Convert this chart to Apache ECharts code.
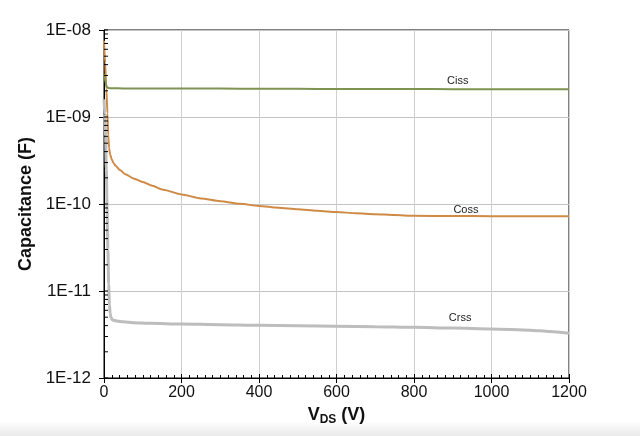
<!DOCTYPE html>
<html>
<head>
<meta charset="utf-8">
<script src="https://cdn.jsdelivr.net/npm/echarts@6/dist/echarts.min.js"></script>
<style>
html,body{margin:0;padding:0;background:#fff;}
#chart{width:640px;height:436px;}
</style>
</head>
<body>
<div id="chart"></div>
<script>
// ---- data ----
const seriesNames = ['Ciss', 'Coss', 'Crss'];
const xTicks = [0, 200, 400, 600, 800, 1000, 1200];
const yTickLabels = ['1E-12', '1E-11', '1E-10', '1E-09', '1E-08'];

const cissV = [0, 2, 4, 6, 8, 12, 20, 50, 100, 200, 300, 400, 500, 600, 700, 800, 900, 1000, 1100, 1200];
const ciss  = [3.1e-9, 2.8e-9, 2.5e-9, 2.3e-9, 2.2e-9, 2.15e-9, 2.14e-9, 2.13e-9, 2.13e-9, 2.12e-9, 2.12e-9, 2.11e-9, 2.11e-9, 2.1e-9, 2.1e-9, 2.1e-9, 2.09e-9, 2.09e-9, 2.08e-9, 2.08e-9];

const cossV = [0, 3, 6, 9, 11, 13, 16, 20, 25, 30, 41, 55, 76, 100, 125, 150, 200, 250, 300, 350, 400, 450, 500, 550, 600, 650, 700, 750, 800, 900, 1000, 1100, 1200];
const coss  = [7.5e-9, 4.2e-9, 2.1e-9, 1.1e-9, 6.2e-10, 4.4e-10, 3.7e-10, 3.25e-10, 2.95e-10, 2.75e-10, 2.46e-10, 2.2e-10, 1.97e-10, 1.79e-10, 1.62e-10, 1.47e-10, 1.29e-10, 1.16e-10, 1.075e-10, 1.005e-10, 9.5e-11, 9.05e-11, 8.68e-11, 8.36e-11, 8.08e-11, 7.84e-11, 7.64e-11, 7.46e-11, 7.33e-11, 7.27e-11, 7.25e-11, 7.22e-11, 7.25e-11];

const crssV = [0, 2, 4, 6, 8, 10, 12, 14, 16, 18, 22, 33, 50, 75, 120, 200, 300, 400, 500, 600, 700, 800, 900, 1000, 1100, 1150, 1200];
const crss  = [1.6e-9, 1.1e-9, 6e-10, 2.5e-10, 9e-11, 3e-11, 1.2e-11, 7e-12, 5.5e-12, 4.95e-12, 4.65e-12, 4.52e-12, 4.42e-12, 4.32e-12, 4.25e-12, 4.18e-12, 4.1e-12, 4.03e-12, 3.98e-12, 3.93e-12, 3.88e-12, 3.82e-12, 3.75e-12, 3.66e-12, 3.55e-12, 3.42e-12, 3.27e-12];

const decadeExps = [-12, -11, -10, -9];
const minorMults = [1, 2, 3, 4, 5, 6, 7, 8, 9];

// ---- build ----
const zip = (xs, ys) => xs.map((x, i) => [x, ys[i]]);
const yTickValues = [];
decadeExps.forEach(e => minorMults.forEach(m => yTickValues.push(m * Math.pow(10, e))));
yTickValues.push(1e-8);

const FONT = 'Liberation Sans, Arial, sans-serif';

const chart = echarts.init(document.getElementById('chart'), null, {renderer: 'canvas'});

function labelPoint(name, coord) {
  return {
    symbol: 'circle', symbolSize: 0,
    label: {show: true, position: 'inside', formatter: name, color: '#222', fontSize: 11, fontFamily: FONT},
    data: [{coord: coord}]
  };
}

const option = {
  animation: false,
  backgroundColor: '#fff',
  grid: {left: 104, right: 71, top: 30, bottom: 58, show: true, borderColor: '#000', borderWidth: 1},
  graphic: [{
    type: 'rect', left: 0, top: 421, z: -10,
    shape: {width: 640, height: 15},
    style: {fill: new echarts.graphic.LinearGradient(0, 0, 0, 1, [{offset: 0, color: '#ffffff'}, {offset: 1, color: '#e9e9e9'}])}
  }],
  xAxis: [{
    type: 'value', min: xTicks[0], max: xTicks[xTicks.length - 1], interval: 200,
    name: '{v|V}{s|DS}{v| (V)}', nameLocation: 'middle', nameGap: 24,
    nameTextStyle: {rich: {
      v: {fontSize: 18, fontWeight: 'bold', fontFamily: FONT, color: '#111'},
      s: {fontSize: 12, fontWeight: 'bold', fontFamily: FONT, color: '#111', verticalAlign: 'bottom', padding: [9, 0, 0, 0]}
    }},
    axisLine: {lineStyle: {color: '#000', width: 1}},
    axisTick: {show: true, length: 5, lineStyle: {color: '#000'}},
    axisLabel: {color: '#111', fontSize: 16, fontFamily: FONT, margin: 7, formatter: v => String(v)},
    splitLine: {show: true, lineStyle: {color: '#cfcfcf', width: 1}}
  }, {
    type: 'value', min: xTicks[0], max: xTicks[xTicks.length - 1], interval: 200, position: 'bottom',
    axisLine: {show: false},
    axisTick: {show: true, inside: true, length: 4, lineStyle: {color: '#000'}},
    minorTick: {show: true, splitNumber: 10, length: 3, lineStyle: {color: '#000'}},
    axisLabel: {show: false},
    splitLine: {show: false}
  }],
  yAxis: {
    type: 'log', logBase: 10, min: 1e-12, max: 1e-8,
    name: 'Capacitance (F)', nameLocation: 'middle', nameGap: 62,
    nameTextStyle: {fontSize: 18, fontWeight: 'bold', fontFamily: FONT, color: '#111'},
    axisLine: {show: true, lineStyle: {color: '#000', width: 1}},
    axisTick: {show: true, length: 5, lineStyle: {color: '#000'}},
    axisLabel: {
      color: '#111', fontSize: 17, fontFamily: FONT, margin: 13,
      formatter: v => yTickLabels[Math.round(Math.log10(v)) + 12]
    },
    splitLine: {show: true, lineStyle: {color: '#c4c4c4', width: 1}}
  },
  series: [
    {
      type: 'custom', name: 'yMinorTicks', xAxisIndex: 0, yAxisIndex: 0, clip: false, silent: true,
      data: yTickValues.map(v => [0, v]),
      renderItem: (params, api) => {
        const p = api.coord([0, api.value(1)]);
        return {type: 'line', shape: {x1: p[0], y1: p[1], x2: p[0] + 4, y2: p[1]}, style: {stroke: '#000', lineWidth: 1}};
      },
      z: 5
    },
    {
      type: 'line', name: seriesNames[2], data: zip(crssV, crss), showSymbol: false, smooth: 0.25, smoothMonotone: 'x',
      lineStyle: {color: '#bdbdbd', width: 3}, z: 2,
      markPoint: labelPoint(seriesNames[2], [919, 4.9e-12])
    },
    {
      type: 'line', name: seriesNames[1], data: zip(cossV, coss), showSymbol: false, smooth: 0.25, smoothMonotone: 'x',
      lineStyle: {color: '#cf8a45', width: 2}, z: 3,
      markPoint: labelPoint(seriesNames[1], [934, 8.5e-11])
    },
    {
      type: 'line', name: seriesNames[0], data: zip(cissV, ciss), showSymbol: false, smooth: 0.25, smoothMonotone: 'x',
      lineStyle: {color: '#7d9452', width: 2}, z: 4,
      markPoint: labelPoint(seriesNames[0], [913, 2.61e-9])
    }
  ]
};
chart.setOption(option);
</script>
</body>
</html>
